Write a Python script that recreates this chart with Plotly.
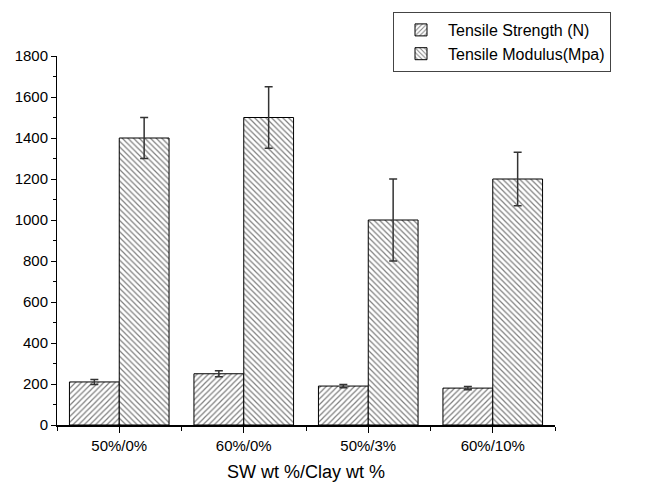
import plotly.graph_objects as go

categories = ["50%/0%", "60%/0%", "50%/3%", "60%/10%"]
strength = [210, 250, 190, 180]
strength_err = [12, 15, 8, 8]
modulus = [1400, 1500, 1000, 1200]
modulus_err = [100, 150, 200, 130]
xpos = [0, 1, 2, 3]

font = "Liberation Sans, Arial, sans-serif"
OFF = 8  # page body margin in the browser

fig = go.Figure()
fig.add_trace(go.Bar(
    x=xpos, y=strength, name="Tensile Strength (N)",
    marker=dict(color="white", line=dict(color="black", width=1),
                pattern=dict(shape="/", fgcolor="black", bgcolor="white", size=4, solidity=0.3)),
    error_y=dict(type="data", array=strength_err, color="#333333", thickness=1.5, width=4),
))
fig.add_trace(go.Bar(
    x=xpos, y=modulus, name="Tensile Modulus(Mpa)",
    marker=dict(color="white", line=dict(color="black", width=1),
                pattern=dict(shape="\\", fgcolor="black", bgcolor="white", size=4, solidity=0.3)),
    error_y=dict(type="data", array=modulus_err, color="#333333", thickness=1.5, width=4),
))

fig.update_layout(
    width=652, height=485,
    margin=dict(l=0, r=0, t=0, b=0, autoexpand=False),
    paper_bgcolor="white", plot_bgcolor="white",
    barmode="group", bargap=0.2, bargroupgap=0,
    font=dict(family=font, size=15, color="black"),
    showlegend=True,
    legend=dict(x=(393 - OFF) / 652, y=1 - (12 - OFF) / 485, xanchor="left", yanchor="top",
                bordercolor="#444444", borderwidth=1, bgcolor="white",
                font=dict(size=16, family=font), tracegroupgap=0,
                itemwidth=44, entrywidth=255, entrywidthmode="pixels"),
)
fig.update_xaxes(
    domain=[(57 - OFF) / 652, (555 - OFF) / 652], automargin=False,
    range=[-0.5, 3.5], tickmode="array", tickvals=xpos, ticktext=categories,
    showline=True, linecolor="black", linewidth=2,
    ticks="outside", ticklen=6, tickwidth=1, tickcolor="black",
    showgrid=False, zeroline=False,
    minor=dict(tickmode="array", tickvals=[-0.5, 0.5, 1.5, 2.5, 3.5], ticks="outside", ticklen=4, tickcolor="black", showgrid=False),
    title=dict(text="SW wt %/Clay wt %", font=dict(size=18, family=font), standoff=12),
    tickfont=dict(size=15),
)
fig.update_yaxes(
    domain=[(485 - (425 - OFF)) / 485, (485 - (56 - OFF)) / 485], automargin=False,
    range=[0, 1800], tickmode="linear", tick0=0, dtick=200,
    showline=True, linecolor="black", linewidth=1,
    ticks="outside", ticklen=5, tickwidth=1, tickcolor="black",
    showgrid=False, zeroline=False,
    minor=dict(dtick=100, ticks="outside", ticklen=3, tickcolor="black", showgrid=False),
    tickfont=dict(size=15),
)

fig.write_html("out.html")
